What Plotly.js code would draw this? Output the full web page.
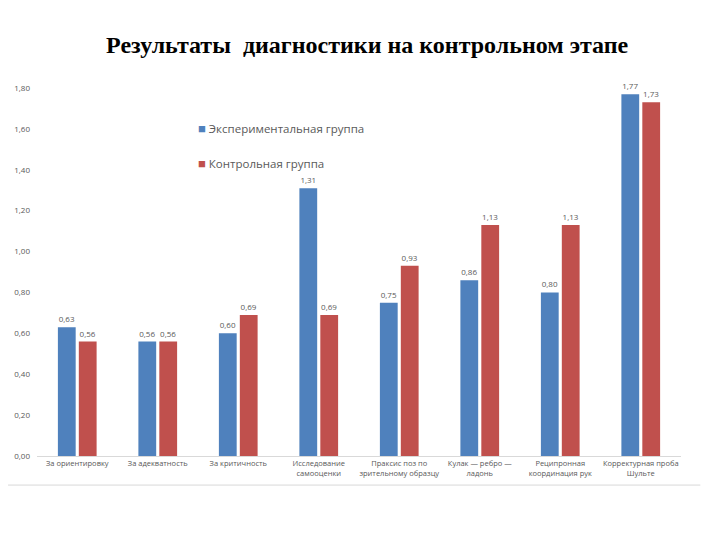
<!DOCTYPE html>
<html>
<head>
<meta charset="utf-8">
<script src="https://cdn.plot.ly/plotly-3.0.1.min.js"></script>
<style>body{margin:0;background:#fff}#chart{width:720px;height:540px}</style>
</head>
<body>
<div id="chart"></div>
<script>
const categories = [
  "За ориентировку",
  "За адекватность",
  "За критичность",
  "Исследование<br>самооценки",
  "Праксис поз по<br>зрительному образцу",
  "Кулак — ребро —<br>ладонь",
  "Реципронная<br>координация рук",
  "Корректурная проба<br>Шульте"
];
const experimental = [0.63, 0.56, 0.60, 1.31, 0.75, 0.86, 0.80, 1.77];
const control = [0.56, 0.56, 0.69, 0.69, 0.93, 1.13, 1.13, 1.73];
const seriesNames = ["Экспериментальная группа", "Контрольная группа"];
const seriesColors = ["#4F81BD", "#C0504D"];
const yTicks = [0, 0.2, 0.4, 0.6, 0.8, 1.0, 1.2, 1.4, 1.6, 1.8];

const fmt = v => v.toFixed(2).replace('.', ',');
const labelFont = {family: "Open Sans, sans-serif", size: 8, color: "#595959"};

const traces = [
  {type: "bar", x: categories, y: experimental, name: seriesNames[0],
   marker: {color: seriesColors[0]}, text: experimental.map(fmt), textposition: "outside",
   textfont: labelFont, cliponaxis: false, hoverinfo: "none"},
  {type: "bar", x: categories, y: control, name: seriesNames[1],
   marker: {color: seriesColors[1]}, text: control.map(fmt), textposition: "outside",
   textfont: labelFont, cliponaxis: false, hoverinfo: "none"}
];

const legendFont = {family: "Open Sans, sans-serif", size: 11.5, color: "#595959"};
const legendAnn = seriesNames.map((n, i) => ({
  xref: "paper", yref: "paper", x: 0.247, y: [0.892, 0.797][i], xanchor: "left", yanchor: "middle",
  showarrow: false, align: "left", font: legendFont,
  text: "<span style='color:" + seriesColors[i] + ";font-size:13px'>■</span> " + n
}));

const layout = {
  width: 720, height: 540,
  paper_bgcolor: "#fff", plot_bgcolor: "#fff",
  margin: {l: 37, r: 39, t: 88, b: 84},
  title: {text: "<b>Результаты  диагностики на контрольном этапе</b>",
          font: {family: "Liberation Serif, Times New Roman, serif", size: 24, color: "#000"},
          x: 0.51, xanchor: "center", y: 0.917, yanchor: "middle"},
  barmode: "group", bargap: 0.48, bargroupgap: 0.15,
  separators: ", ",
  showlegend: false,
  annotations: legendAnn,
  xaxis: {tickfont: {family: "Open Sans, sans-serif", size: 7.5, color: "#595959"},
          showline: true, linecolor: "#d9d9d9", linewidth: 1, ticks: "", tickangle: 0,
          automargin: false},
  yaxis: {range: [0, 1.8], tickvals: yTicks, ticktext: yTicks.map(fmt),
          tickfont: {family: "Open Sans, sans-serif", size: 8, color: "#595959"},
          ticklabelstandoff: 6,
          showgrid: false, zeroline: false, showline: false, ticks: "", automargin: false},
  shapes: [{type: "line", xref: "paper", yref: "paper", x0: -0.045, x1: 1.03, y0: -0.079, y1: -0.079,
            line: {color: "#d9d9d9", width: 1}}]
};

Plotly.newPlot("chart", traces, layout, {displayModeBar: false, staticPlot: true});
</script>
</body>
</html>
